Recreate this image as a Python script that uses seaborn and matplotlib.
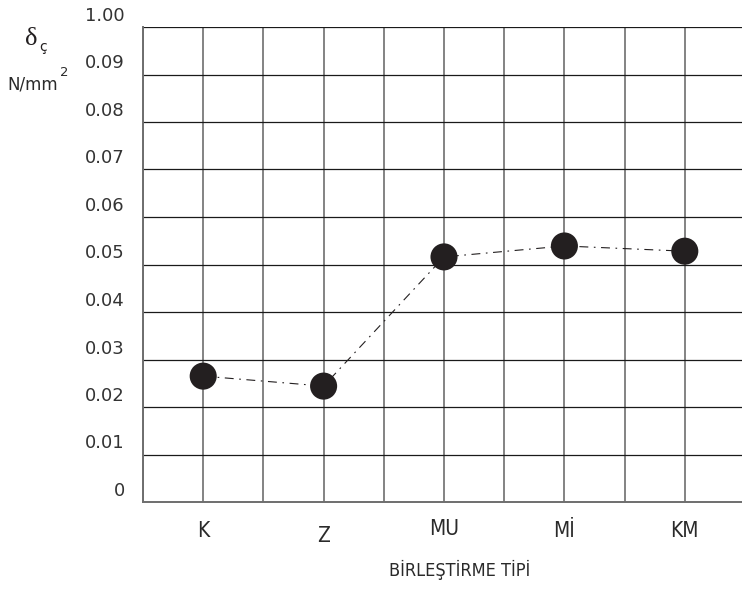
import numpy as np
import pandas as pd
import matplotlib
matplotlib.use("Agg")
import matplotlib.pyplot as plt
import matplotlib.transforms as mtransforms
import seaborn as sns

# dane
kategorie = ["K", "Z", "MU", "Mİ", "KM"]
wartosci = [0.0265, 0.0244, 0.0516, 0.0539, 0.0528]
y_ticki = [0.0, 0.01, 0.02, 0.03, 0.04, 0.05, 0.06, 0.07, 0.08, 0.09, 0.10]
y_etykiety = ["0", "0.01", "0.02", "0.03", "0.04", "0.05", "0.06", "0.07", "0.08", "0.09", "1.00"]

df = pd.DataFrame({"x": np.arange(len(kategorie)), "y": wartosci})

sns.set_style("white")
plt.rcParams["font.family"] = ["DejaVu Sans"]

fig = plt.figure(figsize=(7.42, 5.95), dpi=100)
ax = fig.add_axes([143 / 742, 93 / 595, (745 - 143) / 742, (502 - 27) / 595])

sns.lineplot(data=df, x="x", y="y", ax=ax, color="#231f20", lw=0.8, zorder=3)
ax.lines[0].set_dashes((8, 5, 1.5, 5))
sns.scatterplot(data=df, x="x", y="y", ax=ax, color="#231f20", s=380,
                edgecolor="none", zorder=4)

ax.set_xlim(-0.5, 4.5)
ax.set_ylim(0, 0.10)
ax.set_yticks(y_ticki)
ax.set_yticklabels(y_etykiety)
ax.set_xticks(df["x"])
ax.set_xticklabels(kategorie)
ax.set_xticks(np.arange(-0.5, 4.6, 0.5), minor=True)

ax.grid(True, which="both", axis="x", color="#7a7a7a", lw=1.3, zorder=1)
ax.grid(True, which="major", axis="y", color="#1a1a1a", lw=0.9, zorder=1)
ax.set_axisbelow(True)

for s in ["left", "bottom"]:
    ax.spines[s].set_color("#6e6e6e")
    ax.spines[s].set_linewidth(1.4)
ax.spines["right"].set_visible(False)
ax.spines["top"].set_visible(False)

ax.tick_params(axis="y", length=0, pad=13, labelsize=13, labelcolor="#333333")
ax.tick_params(axis="x", which="both", length=0, pad=14, labelsize=15, labelcolor="#2a2a2a")
ax.set_xlabel("")
ax.set_ylabel("")

# etykiety osi Y lekko nad liniami siatki
przes = mtransforms.ScaledTranslation(0, 13 / 100, fig.dpi_scale_trans)
for lab in ax.get_yticklabels():
    lab.set_transform(lab.get_transform() + przes)

# drobne przesuniecia etykiet X jak w oryginale
dy = {"Z": -5, "MU": 2}
for lab in ax.get_xticklabels():
    t = lab.get_text()
    if t in dy:
        lab.set_transform(lab.get_transform() + mtransforms.ScaledTranslation(0, dy[t] / 100, fig.dpi_scale_trans))
    lab.set_fontstretch("condensed")

fig.text(460 / 742, 1 - 570 / 595, "BİRLEŞTİRME TİPİ", ha="center", va="center",
         fontsize=13, color="#2a2a2a", fontstretch="condensed")

fig.text(31 / 742, 1 - 39 / 595, "δ", ha="center", va="center", fontsize=19,
         color="#231f20", family=["Liberation Serif", "DejaVu Serif"])
fig.text(43 / 742, 1 - 47 / 595, "ç", ha="center", va="center", fontsize=10, color="#231f20")
fig.text(33 / 742, 1 - 85 / 595, "N/mm", ha="center", va="center", fontsize=12, color="#2a2a2a")
fig.text(64 / 742, 1 - 72 / 595, "2", ha="center", va="center", fontsize=9.5, color="#2a2a2a")

fig.savefig("out.png", dpi=100)
